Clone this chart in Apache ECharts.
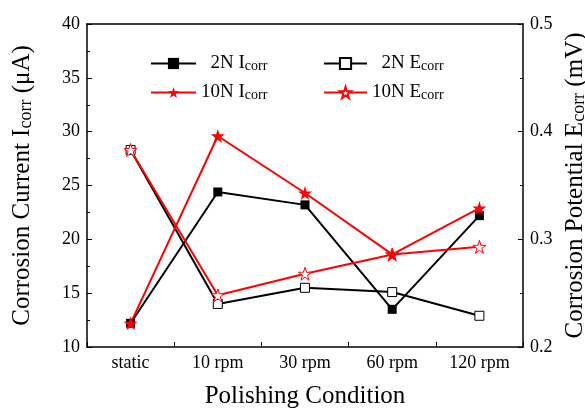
<!DOCTYPE html>
<html><head><meta charset="utf-8">
<script src="https://cdn.jsdelivr.net/npm/echarts@6/dist/echarts.min.js"></script>
<style>html,body{margin:0;padding:0;background:#fff}#c{width:585px;height:409px}</style>
</head><body><div id="c"></div>
<script>
const categories = ['static', '10 rpm', '30 rpm', '60 rpm', '120 rpm'];
const icorr2N = [12.2, 24.4, 23.2, 13.5, 22.2];
const icorr10N = [12.2, 29.6, 24.3, 18.6, 22.9];
const ecorr2N = [0.383, 0.240, 0.255, 0.251, 0.229];
const ecorr10N = [0.383, 0.248, 0.268, 0.286, 0.293];
const leftTicks = {min: 10, max: 40, interval: 5};
const rightTicks = {min: 0.2, max: 0.5, interval: 0.1};

const STAR = 'path://M50 0 L61.23 34.55 L97.55 34.55 L68.17 55.9 L79.39 90.45 L50 69.1 L20.61 90.45 L31.83 55.9 L2.45 34.55 L38.77 34.55 Z';
const FONT = '"Liberation Serif", "Times New Roman", serif';
const rich = {
  a: {fontFamily: FONT, fontSize: 19, color: '#000'},
  b: {fontFamily: FONT, fontSize: 14, color: '#000', verticalAlign: 'bottom'}
};
function legendFmt(name) {
  const parts = name.split(' ');
  const pre = parts[0].startsWith('2N') ? '  ' : '';
  return '{a|' + pre + parts[0] + ' ' + parts[1].charAt(0) + '}{b|' + parts[1].slice(1) + '}';
}
const titleRich = {a: {fontFamily: FONT, fontSize: 25, color: '#000'}, b: {fontFamily: FONT, fontSize: 18, color: '#000', verticalAlign: 'bottom'}};
const chart = echarts.init(document.getElementById('c'));
const axisLine = {show: true, lineStyle: {color: '#000', width: 1.5}};
chart.setOption({
  animation: false,
  backgroundColor: '#fff',
  grid: {left: 87, right: 62, top: 24, bottom: 62, show: false, outerBoundsMode: 'none', containLabel: false},
  legend: [
    {orient: 'vertical', left: 145, top: 49, itemWidth: 45, itemHeight: 14, itemGap: 10,
     data: ['2N Icorr', '10N Icorr'], formatter: legendFmt, textStyle: {rich: rich}, selectedMode: false},
    {orient: 'vertical', left: 318, top: 49, itemWidth: 43, itemHeight: 14, itemGap: 10,
     data: ['2N Ecorr', '10N Ecorr'], formatter: legendFmt, textStyle: {rich: rich}, selectedMode: false}
  ],
  xAxis: [{
    type: 'category', data: categories, boundaryGap: true,
    axisLine: axisLine,
    axisTick: {show: true, inside: true, length: 5, lineStyle: {color: '#000'}},
    axisLabel: {fontFamily: FONT, fontSize: 18, color: '#000', margin: 7},
    name: 'Polishing Condition', nameLocation: 'middle', nameGap: 37,
    nameTextStyle: {fontFamily: FONT, fontSize: 25, color: '#000'}
  }, {
    type: 'category', data: categories, position: 'top', axisLine: axisLine,
    axisTick: {show: false}, axisLabel: {show: false}
  }],
  yAxis: [{
    type: 'value', min: leftTicks.min, max: leftTicks.max, interval: leftTicks.interval,
    axisLine: axisLine,
    axisTick: {show: true, inside: true, length: 5, lineStyle: {color: '#000'}},
    minorTick: {show: true, splitNumber: 2, length: 3, lineStyle: {color: '#000'}},
    splitLine: {show: false},
    axisLabel: {fontFamily: FONT, fontSize: 18, color: '#000', margin: 7},
    name: '{a|Corrosion Current I}{b|corr}{a| (μA)}', nameLocation: 'middle', nameGap: 52, nameRotate: 90,
    nameTextStyle: {rich: titleRich}
  }, {
    type: 'value', min: rightTicks.min, max: rightTicks.max, interval: rightTicks.interval, position: 'right',
    axisLine: axisLine,
    axisTick: {show: true, inside: true, length: 5, lineStyle: {color: '#000'}},
    minorTick: {show: true, splitNumber: 2, length: 3, lineStyle: {color: '#000'}},
    splitLine: {show: false},
    axisLabel: {fontFamily: FONT, fontSize: 18, color: '#000', margin: 7, formatter: v => v.toFixed(1)},
    name: '{a|Corrosion Potential E}{b|corr}{a| (mV)}', nameLocation: 'middle', nameGap: 40, nameRotate: 90,
    nameTextStyle: {rich: titleRich}
  }],
  series: [
    {name: '2N Icorr', type: 'line', yAxisIndex: 0, data: icorr2N, symbol: 'rect', symbolSize: 9,
     itemStyle: {color: '#000'}, lineStyle: {color: '#000', width: 2}},
    {name: '2N Ecorr', type: 'line', yAxisIndex: 1, data: ecorr2N, symbol: 'rect', symbolSize: 9,
     itemStyle: {color: '#fff', borderColor: '#000', borderWidth: 1}, lineStyle: {color: '#000', width: 2}},
    {name: '10N Ecorr', type: 'line', yAxisIndex: 1, data: ecorr10N, symbol: STAR, symbolSize: 13,
     itemStyle: {color: '#fff', borderColor: '#f00', borderWidth: 1}, lineStyle: {color: '#f00', width: 2}},
    {name: '10N Icorr', type: 'line', yAxisIndex: 0, data: icorr10N, symbol: STAR, symbolSize: 14,
     itemStyle: {color: '#f00'}, lineStyle: {color: '#f00', width: 2}}
  ]
});
</script></body></html>
